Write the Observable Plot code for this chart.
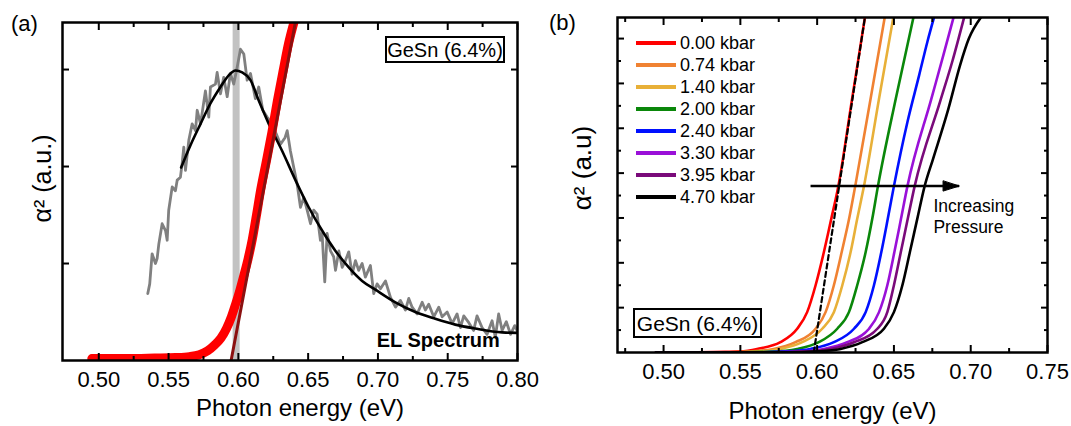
<!DOCTYPE html>
<html><head><meta charset="utf-8">
<script src="https://cdn.jsdelivr.net/npm/d3@7"></script>
<script src="https://cdn.jsdelivr.net/npm/@observablehq/plot@0.6"></script>
<style>
body{margin:0;background:#fff;font-family:Arial,"Liberation Sans",sans-serif;}
#wrap{position:relative;width:1071px;height:426px;overflow:hidden;background:#fff;}
.panel{position:absolute;top:0;}
.lbl{position:absolute;font-size:22px;line-height:1;color:#000;}
.box{position:absolute;border:2.5px solid #000;box-sizing:border-box;display:flex;align-items:center;justify-content:center;background:#fff;line-height:1;color:#000;white-space:nowrap;}
.legend{position:absolute;left:636px;top:32px;font-size:18px;color:#000;}
.legend .row{display:flex;align-items:center;height:22px;white-space:nowrap;}
.legend .sw{display:inline-block;width:40px;height:4px;margin-right:4px;}
</style>
</head><body>
<div id="wrap">
  <div id="pa" class="panel" style="left:0"></div>
  <div id="pb" class="panel" style="left:540px"></div>
</div>
<script>
// ---------- data : panel (a) ----------
const aMajorX = [0.50,0.55,0.60,0.65,0.70,0.75,0.80];
const aMinorX = [0.525,0.575,0.625,0.675,0.725,0.775];
const aMajorY = [1,2,3];
const bandA = [0.5984];           // grey marker band (eV)
// EL spectrum (grey, noisy) [eV, a.u.]
const elSpectrum = [[0.5351,0.69],[0.5365,0.79],[0.5382,1.10],[0.5406,1.00],[0.5418,1.05],[0.543,1.20],[0.5454,1.41],[0.5478,1.34],[0.549,1.24],[0.5501,1.55],[0.5526,1.79],[0.5549,1.75],[0.5562,1.86],[0.5585,1.89],[0.5597,2.03],[0.5609,2.20],[0.5621,1.96],[0.5645,2.27],[0.5669,2.44],[0.5693,2.37],[0.5705,2.58],[0.5729,2.44],[0.5764,2.78],[0.5788,2.51],[0.580,2.82],[0.5836,2.85],[0.5848,2.97],[0.5872,2.75],[0.5895,2.92],[0.592,2.72],[0.5943,2.96],[0.5967,2.85],[0.5991,3.02],[0.6015,3.21],[0.6039,3.16],[0.6063,2.89],[0.6087,2.96],[0.6122,2.70],[0.6146,2.82],[0.6175,2.58],[0.6206,2.51],[0.6242,2.44],[0.6302,2.23],[0.6335,2.30],[0.635,2.37],[0.6373,2.16],[0.6397,1.99],[0.6421,1.82],[0.6445,1.58],[0.6469,1.68],[0.6493,1.55],[0.6517,1.41],[0.654,1.55],[0.6564,1.51],[0.6588,1.24],[0.66,1.31],[0.6619,0.81],[0.6636,1.31],[0.666,1.13],[0.6683,1.07],[0.6696,0.93],[0.672,1.13],[0.6744,0.96],[0.6767,1.03],[0.6791,1.12],[0.6815,0.89],[0.6839,1.03],[0.6862,0.93],[0.6887,1.00],[0.691,0.86],[0.6946,0.98],[0.697,0.69],[0.6994,0.79],[0.7018,0.74],[0.7054,0.82],[0.709,0.65],[0.7126,0.55],[0.7161,0.62],[0.7197,0.52],[0.7221,0.64],[0.7245,0.55],[0.7281,0.48],[0.7317,0.60],[0.734,0.52],[0.7364,0.58],[0.74,0.45],[0.7436,0.55],[0.746,0.45],[0.7496,0.50],[0.7532,0.38],[0.7567,0.48],[0.7591,0.34],[0.7615,0.46],[0.7651,0.39],[0.7686,0.31],[0.771,0.46],[0.7746,0.34],[0.7782,0.27],[0.7818,0.41],[0.7841,0.24],[0.7865,0.48],[0.789,0.31],[0.792,0.40],[0.795,0.27],[0.798,0.36],[0.80,0.30]];
// EL fit (black)
const elFit = [[0.559,1.99],[0.5657,2.22],[0.5729,2.44],[0.58,2.65],[0.5872,2.82],[0.5931,2.94],[0.5979,2.99],[0.6027,2.97],[0.6087,2.89],[0.6146,2.68],[0.6218,2.44],[0.6314,2.16],[0.6409,1.86],[0.6504,1.58],[0.66,1.34],[0.6696,1.13],[0.6791,0.96],[0.6887,0.82],[0.6982,0.73],[0.7125,0.60],[0.7268,0.50],[0.7411,0.43],[0.7554,0.37],[0.7697,0.33],[0.789,0.29],[0.80,0.285]];
// absorption alpha^2 (red dots)
const absorption = [[0.495,0.02],[0.52,0.02],[0.54,0.025],[0.555,0.03],[0.565,0.04],[0.572,0.06],[0.578,0.10],[0.583,0.16],[0.5875,0.23],[0.5915,0.33],[0.595,0.45],[0.598,0.58],[0.601,0.72],[0.604,0.88],[0.607,1.05],[0.610,1.25],[0.613,1.50],[0.616,1.76],[0.620,2.05],[0.624,2.35],[0.628,2.68],[0.632,2.98],[0.636,3.27],[0.6405,3.52]];
// linear fit (dark red)
const linFit = [[0.5948,0],[0.6409,3.49]];

// ---------- data : panel (b) ----------
const bMajorX = [0.50,0.55,0.60,0.65,0.70,0.75];
const bMinorX = [0.475,0.525,0.575,0.625,0.675,0.725];
const bMajorY = [1,2,3,4,5,6,7];
const bMinorY = [0.5,1.5,2.5,3.5,4.5,5.5,6.5];
const pressures = ["0.00 kbar","0.74 kbar","1.40 kbar","2.00 kbar","2.40 kbar","3.30 kbar","3.95 kbar","4.70 kbar"];
const colors = ["#ff0000","#f08232","#e8b038","#0a870a","#0010ff","#9a10d8","#7a0a7a","#000000"];
const s000 = [[0.495,0],[0.52,0.005],[0.54,0.015],[0.55,0.025],[0.5609,0.08],[0.5761,0.23],[0.587,0.53],[0.5935,0.90],[0.599,1.50],[0.6044,2.24],[0.6092,2.98],[0.6138,3.71],[0.6225,5.60],[0.6311,7.47]];
const s074 = [[0.495,0],[0.53,0.005],[0.55,0.012],[0.5717,0.08],[0.5859,0.23],[0.599,0.53],[0.6055,0.90],[0.6109,1.50],[0.616,2.24],[0.6208,2.98],[0.6248,3.71],[0.6348,5.66],[0.644,7.47]];
const s140 = [[0.495,0],[0.54,0.005],[0.56,0.015],[0.5761,0.08],[0.5903,0.23],[0.6033,0.53],[0.6109,0.90],[0.6164,1.50],[0.6218,2.24],[0.6261,2.98],[0.6305,3.71],[0.6403,5.66],[0.6496,7.47]];
const s200 = [[0.495,0],[0.55,0.005],[0.57,0.02],[0.587,0.08],[0.6011,0.23],[0.6131,0.53],[0.6207,0.90],[0.6261,1.50],[0.6316,2.24],[0.6359,2.98],[0.6396,3.71],[0.6512,5.66],[0.6627,7.47]];
const s240 = [[0.495,0],[0.56,0.005],[0.58,0.025],[0.5957,0.08],[0.6109,0.23],[0.624,0.53],[0.6316,0.90],[0.637,1.50],[0.6418,2.24],[0.646,2.98],[0.65,3.71],[0.6588,5.14],[0.6664,6.18],[0.6718,6.93],[0.6761,7.47]];
const s330 = [[0.495,0],[0.57,0.005],[0.59,0.025],[0.6044,0.08],[0.6196,0.23],[0.6338,0.53],[0.6403,0.90],[0.6457,1.50],[0.6503,2.24],[0.6546,2.98],[0.6588,3.71],[0.6744,5.66],[0.6822,6.63],[0.6888,7.47]];
const s395 = [[0.495,0],[0.57,0.003],[0.595,0.025],[0.6087,0.08],[0.624,0.23],[0.6392,0.53],[0.6457,0.90],[0.65,1.50],[0.6545,2.24],[0.659,2.98],[0.6635,3.71],[0.6801,5.60],[0.6881,6.50],[0.6957,7.47]];
const s470 = [[0.495,0],[0.58,0.003],[0.60,0.025],[0.6153,0.08],[0.6294,0.23],[0.6435,0.53],[0.65,0.90],[0.6555,1.50],[0.6604,2.24],[0.6652,2.98],[0.670,3.71],[0.6755,4.32],[0.6855,5.44],[0.6931,6.41],[0.6988,7.0],[0.7066,7.47]];
const seriesB = [s000,s074,s140,s200,s240,s330,s395,s470];
const dashedFit = [[0.5978,0],[0.6311,7.47]];
const arrowB = [{x1:0.5957, x2:0.6924, y:3.71}];
const noteB = [{x:0.6757, y:2.66, t:"Increasing\nPressure"}];
const noteA = [{x:0.7873, y:0.137, t:"EL Spectrum"}];

const FONT = "Arial, 'Liberation Sans', sans-serif";
const ex = d => d[0], ey = d => d[1];

function ticksMarks(majX, minX, majY, minY) {
  const none = () => "";
  const m = [];
  for (const anchor of ["bottom","top"]) {
    m.push(Plot.axisX(majX, {anchor, tickSize:-7, tickFormat:none, label:null, strokeWidth:2}));
    if (minX.length) m.push(Plot.axisX(minX, {anchor, tickSize:-4, tickFormat:none, label:null, strokeWidth:2}));
  }
  for (const anchor of ["left","right"]) {
    m.push(Plot.axisY(majY, {anchor, tickSize:-7, tickFormat:none, label:null, strokeWidth:2}));
    if (minY.length) m.push(Plot.axisY(minY, {anchor, tickSize:-4, tickFormat:none, label:null, strokeWidth:2}));
  }
  return m;
}

// ---------- panel (a) ----------
const pa = Plot.plot({
  width: 540, height: 426,
  marginLeft: 62, marginRight: 23, marginTop: 22, marginBottom: 66,
  x: {domain: [0.474, 0.80]},
  y: {domain: [0, 3.485]},
  style: {fontFamily: FONT, fontSize: "22px", color: "#000", background: "transparent", overflow: "visible"},
  marks: [
    Plot.ruleX(bandA, {x: d => d, stroke: "#c2c2c2", strokeWidth: 7}),
    Plot.line(elSpectrum, {x: ex, y: ey, stroke: "#808080", strokeWidth: 2.8, clip: true}),
    Plot.line(elFit, {x: ex, y: ey, stroke: "#000", strokeWidth: 2.6, clip: true, curve: "monotone-x"}),
    Plot.line(absorption, {x: ex, y: ey, stroke: "#ff0000", strokeWidth: 9, strokeLinecap: "round", clip: true, curve: "monotone-x"}),
    Plot.line(linFit, {x: ex, y: ey, stroke: "#8b1010", strokeWidth: 3, clip: true}),
    Plot.text(noteA, {x: "x", y: "y", text: "t", textAnchor: "end", lineAnchor: "bottom", fontWeight: "bold", fontSize: 20}),
    Plot.axisX(aMajorX, {anchor: "bottom", tickSize: 0, tickPadding: 11, tickFormat: ".2f", label: null}),
    Plot.text(["Photon energy (eV)"], {frameAnchor: "bottom", dx: 10, dy: 55, lineAnchor: "bottom", fontSize: 24}),
    Plot.text(["α² (a.u.)"], {frameAnchor: "left", rotate: -90, dx: -20, dy: -13, lineAnchor: "middle", textAnchor: "middle", fontSize: 25}),
    ...ticksMarks(aMajorX, aMinorX, aMajorY, []),
    Plot.frame({strokeWidth: 2.5})
  ]
});
document.getElementById("pa").appendChild(pa);

// ---------- panel (b) ----------
const rowsB = pressures.flatMap((p, i) => seriesB[i].map(([e, v]) => ({p, e, v})));
const headShape = {draw(ctx, l, r) { ctx.moveTo(0, -l); ctx.lineTo(r, 0); ctx.lineTo(-r, 0); ctx.closePath(); }};
const pb = Plot.plot({
  width: 531, height: 426,
  marginLeft: 77, marginRight: 24, marginTop: 17, marginBottom: 74,
  x: {domain: [0.47, 0.75]},
  y: {domain: [0, 7.47]},
  color: {domain: pressures, range: colors},
  style: {fontFamily: FONT, fontSize: "22px", color: "#000", background: "transparent", overflow: "visible"},
  marks: [
    Plot.line(rowsB, {x: "e", y: "v", z: "p", stroke: "p", strokeWidth: 2.6, clip: true, curve: "monotone-x"}),
    Plot.line(dashedFit, {x: ex, y: ey, stroke: "#000", strokeWidth: 2.2, strokeDasharray: "5,3.5", clip: true}),
    Plot.link(arrowB, {x1: "x1", x2: "x2", y1: "y", y2: "y", stroke: "#000", strokeWidth: 2.5}),
    Plot.vector(arrowB, {x: "x2", y: "y", length: 16, rotate: 90, anchor: "end", shape: headShape, r: 5, fill: "#000", stroke: "#000", strokeWidth: 1}),
    Plot.text(noteB, {x: "x", y: "y", text: "t", textAnchor: "start", lineAnchor: "bottom", fontSize: 17.5, lineHeight: 1.22}),
    Plot.axisX(bMajorX, {anchor: "bottom", tickSize: 0, tickPadding: 11, tickFormat: ".2f", label: null}),
    Plot.text(["Photon energy (eV)"], {frameAnchor: "bottom", dy: 66, lineAnchor: "bottom", fontSize: 24}),
    Plot.text(["α² (a.u)"], {frameAnchor: "left", rotate: -90, dx: -35, dy: -17, lineAnchor: "middle", textAnchor: "middle", fontSize: 26}),
    ...ticksMarks(bMajorX, bMinorX, bMajorY, bMinorY),
    Plot.frame({strokeWidth: 2.5})
  ]
});
document.getElementById("pb").appendChild(pb);

// ---------- overlays: panel letters, sample boxes, legend ----------
const wrap = document.getElementById("wrap");
function addDiv(cls, css, html) { const d = document.createElement("div"); d.className = cls; d.style.cssText = css; d.innerHTML = html; wrap.appendChild(d); return d; }
addDiv("lbl", "left:11px;top:13px;", "(a)");
addDiv("lbl", "left:549px;top:12px;", "(b)");
addDiv("box", "left:385px;top:36px;width:120px;height:27px;font-size:20px;", "GeSn (6.4%)");
addDiv("box", "left:633px;top:308px;width:129px;height:30px;font-size:21px;", "GeSn (6.4%)");
const lg = addDiv("legend", "", "");
pressures.forEach((p, i) => {
  const r = document.createElement("div"); r.className = "row";
  r.innerHTML = `<span class="sw" style="background:${colors[i]}"></span><span>${p}</span>`;
  lg.appendChild(r);
});
</script>
</body></html>
